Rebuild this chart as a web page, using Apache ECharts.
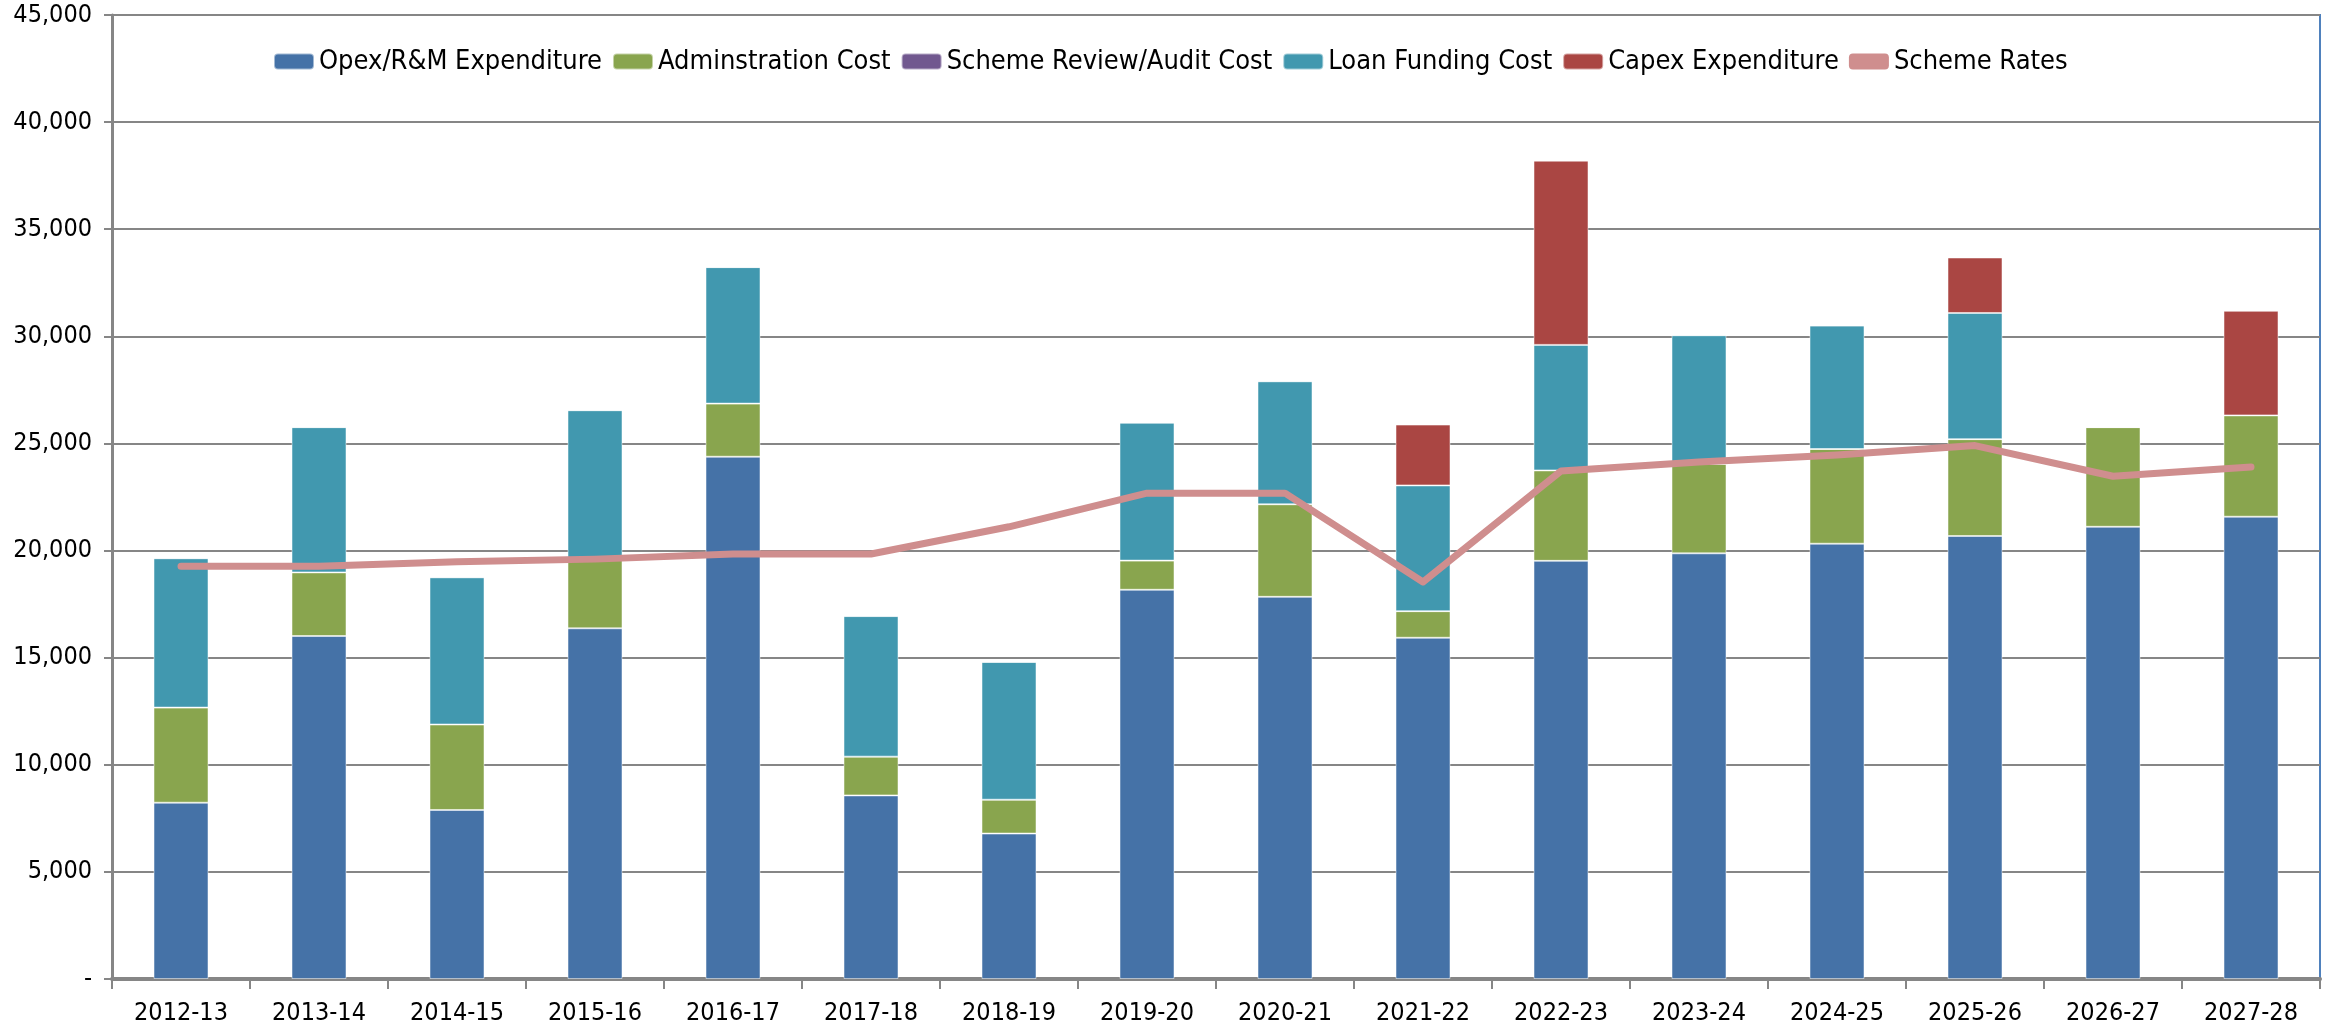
<!DOCTYPE html>
<html>
<head>
<meta charset="utf-8">
<script src="https://cdn.jsdelivr.net/npm/echarts@6/dist/echarts.min.js"></script>
<style>
  html, body { margin: 0; padding: 0; background: #fff; }
  #chart { width: 2344px; height: 1029px; }
</style>
</head>
<body>
<div id="chart"></div>
<script>
// categories and series values
var years = ["2012-13", "2013-14", "2014-15", "2015-16", "2016-17", "2017-18", "2018-19", "2019-20",
  "2020-21", "2021-22", "2022-23", "2023-24", "2024-25", "2025-26", "2026-27", "2027-28"];
var opex = [8230, 16010, 7890, 16370, 24380, 8570, 6790, 18170, 17840, 15930, 19520, 19870, 20320, 20680, 21110, 21580];
var admin = [4440, 2970, 3990, 3280, 2480, 1810, 1580, 1360, 4320, 1240, 4220, 4170, 4420, 4520, 4650, 4730];
var review = [0, 0, 0, 0, 0, 0, 0, 0, 0, 0, 0, 0, 0, 0, 0, 0];
var loan = [6970, 6780, 6870, 6900, 6370, 6560, 6430, 6440, 5740, 5870, 5860, 6010, 5760, 5890, 0, 0];
var capex = [0, 0, 0, 0, 0, 0, 0, 0, 0, 2840, 8600, 0, 0, 2590, 0, 4880];
var rates = [19270, 19270, 19480, 19600, 19840, 19840, 21110, 22680, 22680, 18530, 23710, 24130, 24460, 24900, 23470, 23900];

var font = "'DejaVu Sans Condensed', Roboto, sans-serif";
var chart = echarts.init(document.getElementById("chart"));

function bar(name, data, color) {
  return {
    name: name,
    type: "bar",
    stack: "cost",
    barWidth: 55,
    data: data,
    itemStyle: { color: color, borderColor: "rgba(255,255,255,0.5)", borderWidth: 1 }
  };
}

chart.setOption({
  animation: false,
  backgroundColor: "#fff",
  textStyle: { fontFamily: font },
  legend: {
    left: 268,
    top: 43,
    itemWidth: 40,
    itemHeight: 16,
    itemGap: 10,
    textStyle: { fontFamily: font, fontSize: 27, color: "#000" },
    data: [
      { name: "Opex/R&M Expenditure" },
      { name: "Adminstration Cost" },
      { name: "Scheme Review/Audit Cost" },
      { name: "Loan Funding Cost" },
      { name: "Capex Expenditure" },
      { name: "Scheme Rates", icon: "roundRect", itemStyle: { color: "#cf8e8e" } }
    ]
  },
  grid: {
    left: 112,
    right: 24,
    top: 15,
    bottom: 50,
    show: true,
    borderColor: "#4f81bd",
    borderWidth: 2
  },
  xAxis: {
    type: "category",
    data: years,
    axisLine: { lineStyle: { color: "#868686", width: 4 } },
    axisTick: { show: true, length: 10, lineStyle: { color: "#868686", width: 2 } },
    axisLabel: { fontFamily: font, fontSize: 25, color: "#000", margin: 22 }
  },
  yAxis: {
    type: "value",
    min: 0,
    max: 45000,
    interval: 5000,
    axisLine: { show: true, lineStyle: { color: "#868686", width: 3 } },
    axisTick: { show: true, length: 8, lineStyle: { color: "#868686", width: 2 } },
    splitLine: { lineStyle: { color: "#868686", width: 2 } },
    axisLabel: {
      fontFamily: font,
      fontSize: 25,
      color: "#000",
      margin: 20,
      formatter: function (v) {
        return v === 0 ? "-" : v.toLocaleString("en-US");
      }
    }
  },
  series: [
    bar("Opex/R&M Expenditure", opex, "#4572a7"),
    bar("Adminstration Cost", admin, "#89a54e"),
    bar("Scheme Review/Audit Cost", review, "#71588f"),
    bar("Loan Funding Cost", loan, "#4198af"),
    bar("Capex Expenditure", capex, "#aa4643"),
    {
      name: "Scheme Rates",
      type: "line",
      data: rates,
      symbol: "none",
      lineStyle: { color: "#cf8e8e", width: 7, cap: "round", join: "round" },
      itemStyle: { color: "#cf8e8e" },
      z: 5
    }
  ]
});
</script>
</body>
</html>
